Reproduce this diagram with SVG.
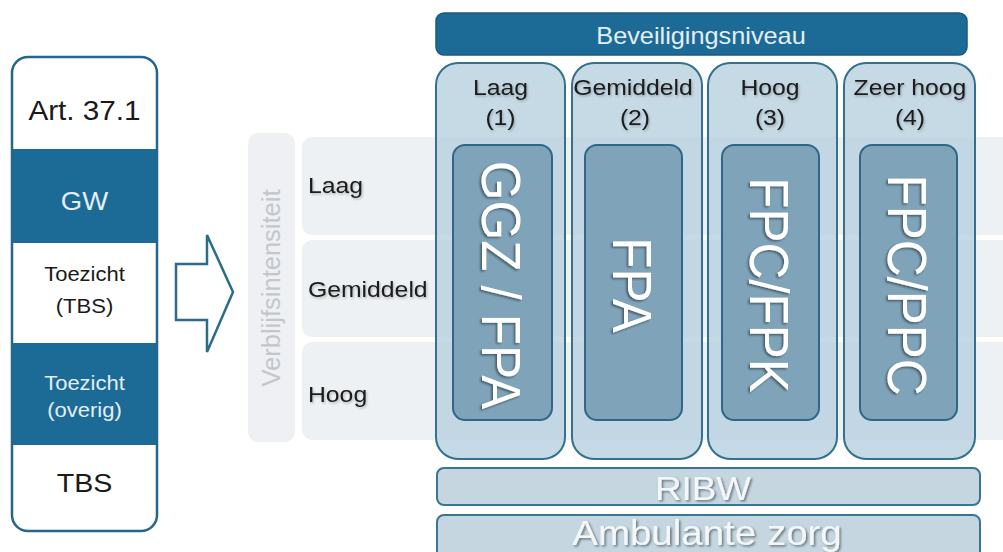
<svg xmlns="http://www.w3.org/2000/svg" width="1003" height="552" viewBox="0 0 1003 552">
  <defs>
    <filter id="shadow" x="-10%" y="-10%" width="120%" height="120%">
      <feDropShadow dx="1.5" dy="1.5" stdDeviation="1" flood-color="#000" flood-opacity="0.45"/>
    </filter>
    <filter id="softshadow" x="-10%" y="-10%" width="120%" height="130%">
      <feDropShadow dx="1" dy="1.5" stdDeviation="1.2" flood-color="#000" flood-opacity="0.25"/>
    </filter>
    <clipPath id="panelClip">
      <rect x="12" y="57" width="145" height="474" rx="16"/>
    </clipPath>
  </defs>
  <style>
    text { font-family: "Liberation Sans", Arial, sans-serif; }
    .dark { fill: #1c6a96; }
    .dark-txt { fill: #e4eef4; }
    .blk { fill: #1a1a1a; }
    .mid { text-anchor: middle; }
    .band { fill: #eef1f4; }
    .col { fill: #b3cedd; fill-opacity: 0.75; stroke: #33718f; stroke-width: 2; }
    .inner { fill: #7fa4b9; stroke: #2f6886; stroke-width: 2; }
    .bar { fill: #c5d6e0; stroke: #3a7592; stroke-width: 2; }
    .big { fill: #ffffff; font-size: 51px; text-anchor: middle; filter: url(#shadow); }
    .barTxt { fill: #f4f7f9; text-anchor: middle; filter: url(#shadow); }
    .hdr { font-size: 22.5px; fill: #1a1a1a; text-anchor: middle; filter: url(#softshadow); }
    .row { font-size: 22.5px; fill: #1a1a1a; filter: url(#softshadow); }
  </style>

  <!-- left panel: legal frameworks -->
  <g id="panel-titels">
    <rect x="12" y="57" width="145" height="474" rx="16" fill="#ffffff"/>
    <g clip-path="url(#panelClip)">
      <rect class="dark" x="12" y="149" width="145" height="94"/>
      <rect class="dark" x="12" y="343" width="145" height="102"/>
    </g>
    <rect x="12" y="57" width="145" height="474" rx="16" fill="none" stroke="#25668a" stroke-width="2.5"/>
    <text class="blk mid" font-size="27" transform="translate(84.5,120) scale(1.1,1)">Art. 37.1</text>
    <text class="dark-txt mid" font-size="25" transform="translate(84.5,210) scale(1.1,1)">GW</text>
    <text class="blk mid" font-size="20" transform="translate(84.5,281) scale(1.1,1)">Toezicht</text>
    <text class="blk mid" font-size="20" transform="translate(84.5,313) scale(1.1,1)">(TBS)</text>
    <text class="dark-txt mid" font-size="20" transform="translate(84.5,390) scale(1.1,1)">Toezicht</text>
    <text class="dark-txt mid" font-size="20" transform="translate(84.5,417) scale(1.1,1)">(overig)</text>
    <text class="blk mid" font-size="26" transform="translate(84.5,492) scale(1.1,1)">TBS</text>
  </g>

  <!-- connector: outlined block arrow -->
  <g id="connectors">
    <path d="M176,264 L207,264 L207,235 L233,292 L207,352 L207,320 L176,320 Z" fill="#ffffff" stroke="#2b6c8c" stroke-width="2.5" stroke-linejoin="miter"/>
  </g>

  <!-- stay-intensity axis -->
  <g id="as-verblijfsintensiteit">
    <rect x="248" y="133" width="47" height="309" rx="10" fill="#eef0f3"/>
    <text font-size="25.5" fill="#c3c7cb" text-anchor="middle" transform="translate(280,288) rotate(-90)">Verblijfsintensiteit</text>
  </g>

  <g id="rij-laag">
    <rect class="band" x="302" y="137" width="720" height="98" rx="10"/>
    <text class="row" transform="translate(308,193) scale(1.1,1)">Laag</text>
  </g>
  <g id="rij-gemiddeld">
    <rect class="band" x="302" y="240" width="720" height="97" rx="10"/>
    <text class="row" transform="translate(308,297) scale(1.1,1)">Gemiddeld</text>
  </g>
  <g id="rij-hoog">
    <rect class="band" x="302" y="342" width="720" height="98" rx="10"/>
    <text class="row" transform="translate(308,402) scale(1.1,1)">Hoog</text>
  </g>

  <!-- security level header -->
  <g id="beveiligingsniveau">
    <rect class="dark" x="436" y="13" width="531" height="42" rx="8" stroke="#175a80" stroke-width="1.5"/>
    <text class="dark-txt mid" font-size="23" transform="translate(701,44) scale(1.1,1)">Beveiligingsniveau</text>
  </g>

  <!-- security level columns -->
  <g id="kolom-laag">
    <rect class="col" x="436" y="63" width="129" height="396" rx="22"/>
    <text class="hdr" transform="translate(500.5,95) scale(1.1,1)">Laag</text>
    <text class="hdr" transform="translate(500.5,125) scale(1.1,1)">(1)</text>
    <rect class="inner" x="453" y="145" width="99" height="275" rx="12"/>
    <text class="big" transform="translate(482,285) scale(1.1,1) rotate(90)">GGZ / FPA</text>
  </g>
  <g id="kolom-gemiddeld">
    <rect class="col" x="572" y="63" width="130" height="396" rx="22"/>
    <text class="hdr" transform="translate(633,95) scale(1.1,1)">Gemiddeld</text>
    <text class="hdr" transform="translate(635,125) scale(1.1,1)">(2)</text>
    <rect class="inner" x="585" y="145" width="97" height="275" rx="12"/>
    <text class="big" transform="translate(613,285) scale(1.1,1) rotate(90)">FPA</text>
  </g>
  <g id="kolom-hoog">
    <rect class="col" x="708" y="63" width="129" height="396" rx="22"/>
    <text class="hdr" transform="translate(770,95) scale(1.1,1)">Hoog</text>
    <text class="hdr" transform="translate(770,125) scale(1.1,1)">(3)</text>
    <rect class="inner" x="722" y="145" width="97" height="275" rx="12"/>
    <text class="big" transform="translate(750,285) scale(1.1,1) rotate(90)">FPC/FPK</text>
  </g>
  <g id="kolom-zeer-hoog">
    <rect class="col" x="844" y="63" width="131" height="396" rx="22"/>
    <text class="hdr" transform="translate(910,95) scale(1.1,1)">Zeer hoog</text>
    <text class="hdr" transform="translate(910,125) scale(1.1,1)">(4)</text>
    <rect class="inner" x="860" y="145" width="97" height="275" rx="12"/>
    <text class="big" transform="translate(888,285) scale(1.1,1) rotate(90)">FPC/PPC</text>
  </g>

  <!-- outpatient levels -->
  <g id="ribw">
    <rect class="bar" x="437" y="468" width="543" height="37" rx="7"/>
    <text class="barTxt" font-size="33.5" transform="translate(703,500) scale(1.1,1)">RIBW</text>
  </g>
  <g id="ambulante-zorg">
    <rect class="bar" x="437" y="515" width="543" height="45" rx="7"/>
    <text class="barTxt" font-size="35" transform="translate(707,545) scale(1.1,1)">Ambulante zorg</text>
  </g>
</svg>
